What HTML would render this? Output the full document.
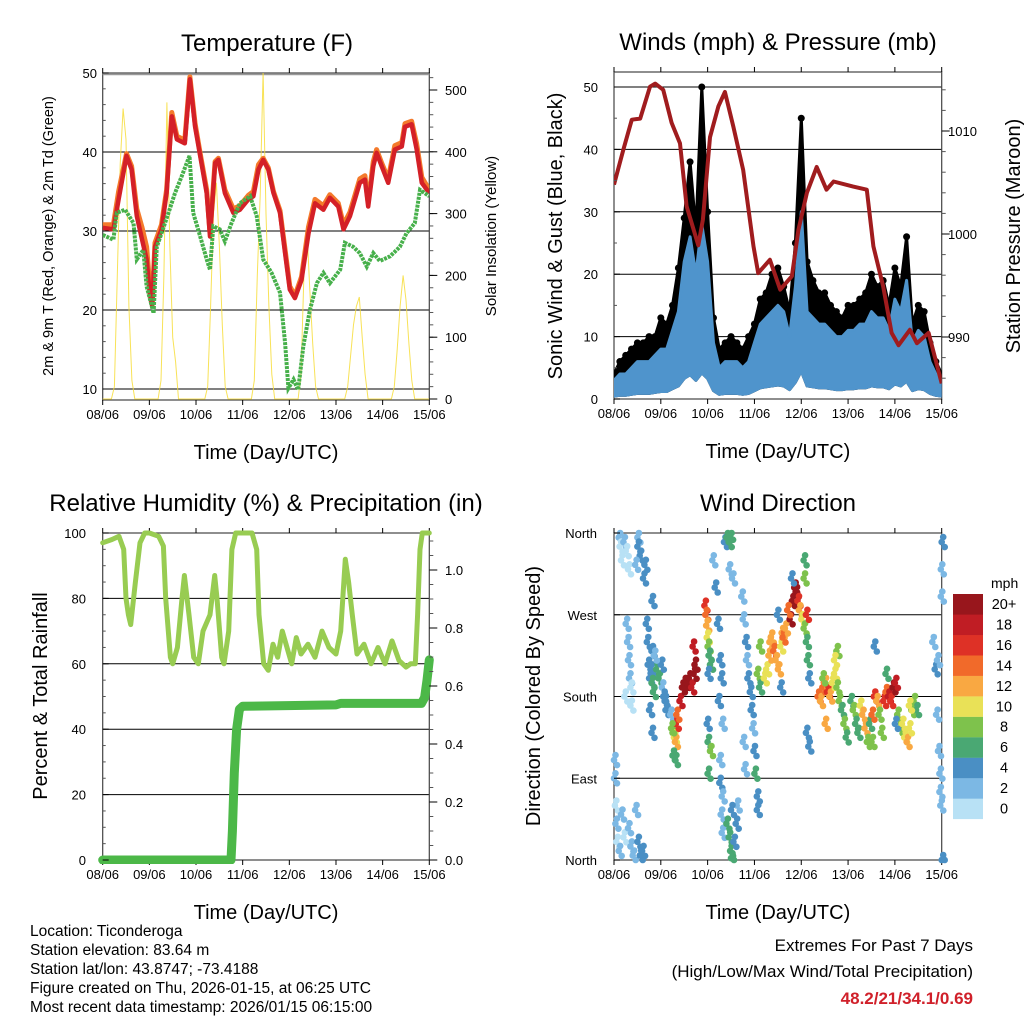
<!DOCTYPE html>
<html><head><meta charset="utf-8">
<style>
html,body{margin:0;padding:0;background:#fff;}
svg{display:block;font-family:"Liberation Sans",Arial,sans-serif;}
</style></head>
<body>
<svg id="chart" width="1024" height="1024" viewBox="0 0 1024 1024" xmlns="http://www.w3.org/2000/svg">
<rect width="1024" height="1024" fill="#fff"/>
<g id="g1"></g>
<g id="g2"></g>
<g id="g3"></g>
<g id="g4"></g>
<g font-size="15.5" fill="#000">
<text x="30" y="936">Location: Ticonderoga</text>
<text x="30" y="955">Station elevation: 83.64 m</text>
<text x="30" y="974">Station lat/lon: 43.8747; -73.4188</text>
<text x="30" y="993">Figure created on Thu, 2026-01-15, at 06:25 UTC</text>
<text x="30" y="1012">Most recent data timestamp: 2026/01/15 06:15:00</text>
</g>
<g font-size="17" text-anchor="end">
<text x="973" y="951">Extremes For Past 7 Days</text>
<text x="973" y="977">(High/Low/Max Wind/Total Precipitation)</text>
<text x="973" y="1004" font-weight="bold" fill="#d0202a">48.2/21/34.1/0.69</text>
</g>
</svg>
<script>
// ---------- data ----------
const dayLabels = ["08/06","09/06","10/06","11/06","12/06","13/06","14/06","15/06"];
const tempT =   [0,0.23,0.34,0.51,0.62,0.73,0.84,0.94,1.01,1.06,1.12,1.26,1.37,1.48,1.59,1.76,1.87,1.98,2.09,2.23,2.30,2.41,2.48,2.62,2.8,2.94,3.12,3.23,3.34,3.44,3.55,3.66,3.8,3.91,4.01,4.12,4.26,4.41,4.55,4.73,4.87,5.05,5.16,5.3,5.51,5.62,5.69,5.8,5.87,5.98,6.12,6.26,6.41,6.48,6.62,6.73,6.84,7.0];
const temp2m =  [30.4,30.2,34,39.5,37.8,31.9,29,26.4,22,20.5,28,30.2,34.8,44.5,41.6,41.1,49.2,43.2,39.5,34.8,29.3,38.6,39,34.8,32.3,32.7,34,34.4,37.8,39,37.8,34.8,32.3,27.2,22.6,21.5,23.8,29.7,33.5,32.7,34.2,33.1,30.2,31.9,36.1,36.5,33.1,38.2,39.9,38.2,36.1,40.3,40.7,43.2,43.5,40.3,36.1,34.8];
const temp9m =  [30.8,30.8,35,39.8,38.2,32.8,30.5,28,23,21,28.5,30.8,35.2,45,42,41.5,49.5,43.6,39.8,35.2,29.8,38.8,39.2,35.2,32.8,33.2,34.5,35,38.4,39.2,38,35,32.6,27.6,23,21.8,24.2,30.5,34,33.2,34.6,33.5,30.8,32.4,36.6,37,33.6,38.8,40.3,38.6,36.6,40.8,41.2,43.6,43.9,41,36.8,35.2];
const dewT =    [0,0.23,0.3,0.48,0.66,0.73,0.87,0.94,1.09,1.16,1.26,1.41,1.55,1.69,1.86,1.94,2.09,2.23,2.30,2.37,2.51,2.62,2.76,2.94,3.16,3.3,3.44,3.62,3.8,3.91,3.98,4.09,4.19,4.3,4.44,4.59,4.73,4.87,5.09,5.19,5.37,5.51,5.66,5.8,5.94,6.16,6.37,6.51,6.69,6.8,7.0];
const dew2m =   [29.5,28.9,32.3,32.7,31,26.4,27.6,23,19.6,28,29.7,32.3,34.8,36.9,39.5,32.3,29.3,26.4,25.1,30.6,30.2,28.7,31,33.5,34.4,31.9,26.4,24.7,22.2,15.8,10.1,11.2,9.9,15.4,20,23.4,24.7,23.4,25.1,28.5,28,27.2,25.5,27.2,26.2,26.8,28,29.7,31,35.2,34.4];
const solar = [0,0,0,0,20,200,380,470,420,150,30,0,0,0,0,0,
 0,0,0,0,30,200,480,250,100,60,0,0,0,0,0,0,
 0,0,0,0,20,150,300,350,250,120,20,0,0,0,0,0,
 0,0,0,0,30,200,330,530,300,150,40,0,0,0,0,0,
 0,0,0,0,40,200,280,180,90,20,0,0,0,0,0,0,
 0,0,0,0,20,70,120,150,165,100,40,0,0,0,0,0,
 0,0,0,0,20,80,150,200,160,90,30,0,0,0,0,0,0];
const gust = [4,6,7,8,9,9,10,10, 13,12,15,21,29,38,27,50, 30,13,8,9,10,9,8,10, 12,16,17,20,21,18,14,25, 45,22,19,17,17,15,14,13, 15,15,16,17,20,18,19,15, 21,18,26,12,15,14,9,6, 4];
const speed = [3,4,4,5,6,6,6,7, 8,8,11,14,22,26,20,28, 22,9,5,6,6,6,5,6, 9,12,13,14,15,14,10,18, 30,14,13,12,12,11,10,10, 11,11,12,12,14,13,13,11, 16,14,19,9,11,10,6,4, 3];
const presT = [0,0.2,0.38,0.56,0.77,0.88,1.05,1.23,1.41,1.55,1.8,1.9,2.05,2.23,2.37,2.55,2.76,2.98,3.08,3.33,3.55,3.8,3.94,4.12,4.33,4.54,4.69,5.11,5.4,5.54,5.75,5.93,6.08,6.32,6.47,6.72,7.0];
const pres =  [1004.8,1008.2,1011.1,1011.2,1014.3,1014.6,1014.0,1010.8,1008.8,1002.7,998.9,1001.4,1009.4,1012.4,1013.8,1010.4,1006.2,998.8,996.2,997.5,994.6,995.9,1000.4,1004.0,1006.5,1004.3,1005.1,1004.6,1004.3,998.8,994.9,990.4,989.2,990.7,989.4,990.4,985.5];
const rhT = [0,0.2,0.35,0.45,0.5,0.55,0.6,0.7,0.8,0.9,1.0,1.2,1.3,1.35,1.45,1.5,1.6,1.7,1.75,1.85,1.95,2.05,2.15,2.3,2.4,2.45,2.55,2.6,2.7,2.77,2.85,3.0,3.2,3.3,3.35,3.45,3.55,3.65,3.75,3.85,3.95,4.05,4.15,4.25,4.4,4.55,4.7,4.85,5.0,5.1,5.2,5.27,5.35,5.45,5.6,5.75,5.9,6.05,6.2,6.35,6.5,6.6,6.7,6.75,6.8,6.85,7.0];
const rh =  [97,98,99,95,80,75,72,85,97,100,100,99,96,80,62,60,65,80,87,75,62,60,70,75,87,80,62,60,70,95,100,100,100,95,75,60,58,66,62,70,65,60,68,63,66,62,70,65,63,70,92,85,75,63,66,60,65,60,67,61,59,60,60,75,95,100,100];
const prT = [0,2.75,2.78,2.82,2.87,2.93,3.0,5.0,5.1,6.83,6.9,6.95,7.0];
const pr =  [0,0,0.1,0.3,0.45,0.52,0.53,0.535,0.54,0.54,0.56,0.62,0.69];
const wdT = [0.1,0.12,0.15,0.2,0.25,0.3,0.5,0.5,0.55,0.45,0.65,0.62,
 0.02,0.03,0.05,0.1,0.15,0.2,0.3,0.35,0.4,0.5,0.55,0.6,0.45,0.0,0.0,
 0.25,0.28,0.3,0.32,0.35,0.22,0.35,0.8,0.8,
 0.68,0.7,0.72,0.75,0.78,0.8,0.83,0.9,0.95,1.0,1.02,1.05,1.08,1.1,0.85,0.75,0.8,1.2,
 1.25,1.28,1.3,1.32,1.33,1.22,1.25,1.3,
 1.4,1.45,1.5,1.55,1.6,1.65,1.7,1.72,1.68,
 1.93,1.95,1.97,1.98,2.0,2.02,2.05,2.0,1.98,2.0,2.0,2.05,
 2.1,2.15,2.2,2.25,2.28,2.22,2.3,2.25,2.25,2.3,2.28,2.3,2.35,2.4,2.45,2.48,2.45,2.52,
 2.4,2.45,2.48,2.5,2.55,2.6,2.62,2.5,
 2.72,2.75,2.8,2.82,2.85,2.9,2.92,2.95,2.98,3.0,3.05,3.05,2.75,2.78,3.1,3.05,3.1,
 3.2,3.25,3.3,3.32,3.35,3.4,3.45,3.5,3.55,3.58,3.6,3.65,3.55,3.48,
 3.75,3.8,3.85,3.88,3.92,3.95,4.0,4.05,4.1,4.12,4.15,4.05,4.05,3.7,3.78,4.1,4.15,4.1,
 4.35,4.4,4.45,4.5,4.55,4.6,4.65,4.7,4.75,4.8,4.85,4.9,4.95,4.5,4.45,4.75,4.7,
 5.05,5.1,5.15,5.2,5.25,5.3,5.35,5.4,5.45,5.5,5.55,5.6,5.65,5.7,5.75,5.8,5.85,5.9,5.95,6.0,6.05,6.1,6.15,6.2,6.25,6.3,6.35,6.4,6.45,5.55,5.8,5.5,6.0,6.3,
 6.8,6.85,6.9,6.88,6.92,6.95,6.95,6.97,6.98,7.0,6.98,7.0];
const wdDir = [355,345,330,350,340,320,355,345,335,325,325,310,
 60,40,20,10,50,25,35,15,5,20,5,10,55,110,90,
 260,240,220,200,190,180,170,285,230,
 260,240,215,200,210,195,185,210,200,215,190,180,175,165,225,165,140,160,
 140,135,130,150,160,145,115,110,
 175,190,195,195,200,190,205,215,235,
 280,270,258,245,235,225,215,205,150,130,95,120,
 330,300,260,220,200,175,150,110,85,70,50,30,350,355,350,358,320,310,
 40,25,10,2,20,40,60,55,
 290,265,240,220,200,185,165,145,120,95,70,55,130,100,235,205,190,
 200,210,225,240,245,230,220,210,235,250,245,255,190,270,
 265,285,300,295,285,275,265,255,240,220,200,310,330,275,310,140,125,270,
 180,175,190,195,185,180,195,205,190,175,165,150,135,150,200,230,220,
 175,165,150,140,170,160,145,130,150,160,180,175,160,140,175,185,180,175,190,195,160,145,150,135,130,145,165,175,165,235,205,130,150,170,
 240,210,220,160,120,95,75,60,320,350,290,0];
const wdSpd = [2,1,1,2,1,1,3,4,4,2,4,4,
 1,2,1,2,2,1,2,2,3,4,4,4,3,2,3,
 3,3,2,2,1,1,1,4,4,
 4,4,4,4,5,6,6,7,6,5,3,5,4,4,3,4,4,3,
 8,10,12,16,14,8,6,7,
 18,20,21,20,21,18,20,20,18,
 16,14,12,10,8,7,6,5,4,6,7,8,
 3,4,4,4,4,4,2,2,4,3,3,2,4,6,6,6,3,2,
 6,6,7,6,4,4,3,5,
 3,3,4,3,4,5,4,3,4,6,4,4,3,3,8,8,7,
 10,10,12,13,12,14,12,12,10,12,14,12,4,4,
 20,21,22,20,16,12,10,8,6,6,4,8,7,14,4,4,4,16,
 14,12,14,12,16,12,10,10,8,8,6,8,6,12,8,8,10,
 6,8,6,6,10,12,12,8,6,14,16,12,8,8,16,14,18,16,20,18,8,8,10,10,12,10,8,8,6,4,6,8,5,10,
 3,4,2,3,2,2,2,2,2,4,3,4];
const binLabels = ["0","2","4","6","8","10","12","14","16","18","20+"];
const binColors = ["#b8e1f5","#7cb8e4","#4a8fc4","#4aa873","#7ec24c","#e9e157","#f9a842","#f16a2a","#de3126","#c01d24","#98161c"];

// ---------- helpers ----------
const NS="http://www.w3.org/2000/svg";
function mk(parent,tag,attrs,txt){const e=document.createElementNS(NS,tag);for(const k in attrs)e.setAttribute(k,attrs[k]);if(txt!==undefined)e.textContent=txt;parent.appendChild(e);return e;}
function pts(xs,ys,fx,fy){return xs.map((x,i)=>fx(x).toFixed(1)+","+fy(ys[i]).toFixed(1)).join(" ");}

function frame(g,P,opt){
  opt.grid.forEach(v=>{const y=opt.yL(v);
    const l=mk(g,"line",{x1:P.x0,x2:P.x1,y1:y,y2:y,stroke:"#000","stroke-width":1});
    
    });
  const r=mk(g,"rect",{x:P.x0,y:P.y0,width:P.x1-P.x0,height:P.y1-P.y0,fill:"none",stroke:"#444","stroke-width":1.2});
  
  
  dayLabels.forEach((lab,i)=>{const x=P.xd(i);
    mk(g,"line",{x1:x,x2:x,y1:P.y1,y2:P.y1+5,stroke:"#000"});
    mk(g,"line",{x1:x,x2:x,y1:P.y0,y2:P.y0-5,stroke:"#000"});
    const t=mk(g,"text",{x:x,y:P.y1+19,"font-size":13,"text-anchor":"middle"},lab);
    
    });
  const xt=mk(g,"text",{x:(P.x0+P.x1)/2,y:P.y1+59,"font-size":20,"text-anchor":"middle"},"Time (Day/UTC)");
  
  
  const tt=mk(g,"text",{x:opt.titleX,y:P.y0-22,"font-size":24,"text-anchor":"middle"},opt.title);
  
  
}
function leftTicks(g,P,vals,fy,labs,lx,minor){
  if(minor)minor.forEach(v=>mk(g,"line",{x1:P.x0,x2:P.x0+3,y1:fy(v),y2:fy(v),stroke:"#555"}));
  vals.forEach((v,i)=>{mk(g,"line",{x1:P.x0,x2:P.x0+6,y1:fy(v),y2:fy(v),stroke:"#000"});
    const t=mk(g,"text",{x:lx,y:fy(v)+5,"font-size":13,"text-anchor":"end"},labs[i]);
    
    });
}
function rightTicks(g,P,vals,fy,labs,lx,minor){
  if(minor)minor.forEach(v=>mk(g,"line",{x1:P.x1,x2:P.x1+4,y1:fy(v),y2:fy(v),stroke:"#555"}));
  vals.forEach((v,i)=>{mk(g,"line",{x1:P.x1,x2:P.x1+8,y1:fy(v),y2:fy(v),stroke:"#000"});
    const t=mk(g,"text",{x:lx,y:fy(v)+5,"font-size":13,"text-anchor":"start"},labs[i]);
    
    });
}
function vlabel(g,x,y,txt,size,name){const t=mk(g,"text",{x:x,y:y,"font-size":size,"text-anchor":"middle",transform:`rotate(-90 ${x} ${y})`},txt);
  
  }
function range(a,b,s){const r=[];for(let v=a;v<=b+1e-9;v+=s)r.push(+v.toFixed(4));return r;}

// ---------- Panel 1: temperature ----------
(function(){
const g=document.getElementById("g1");
const P={x0:102.7,x1:429.3,y0:73,y1:400};P.xd=d=>P.x0+d*(P.x1-P.x0)/7;
const yT=t=>389-(t-10)*7.9, yS=s=>399-s*0.618;
const clip=mk(g,"clipPath",{id:"c1"});mk(clip,"rect",{x:P.x0,y:P.y0,width:P.x1-P.x0,height:P.y1-P.y0});
frame(g,P,{grid:[10,20,30,40,50],yL:yT,title:"Temperature (F)",titleX:267});
mk(g,"line",{x1:P.x0,x2:P.x1,y1:74.5,y2:74.5,stroke:"#999","stroke-width":1.5});
const d=mk(g,"g",{"clip-path":"url(#c1)"});
const sl=mk(d,"polyline",{points:pts(solar.map((_,i)=>i/16),solar,P.xd,yS),fill:"none",stroke:"#f7dd3a","stroke-width":1,"stroke-opacity":0.85});


const o=mk(d,"polyline",{points:pts(tempT,temp9m,P.xd,yT),fill:"none",stroke:"#f47a2b","stroke-width":5,"stroke-linejoin":"round"});


const r=mk(d,"polyline",{points:pts(tempT,temp2m,P.xd,yT),fill:"none",stroke:"#d42027","stroke-width":4.5,"stroke-linejoin":"round"});


const gr=mk(d,"polyline",{points:pts(dewT,dew2m,P.xd,yT),fill:"none",stroke:"#47b04b","stroke-width":4,"stroke-dasharray":"3 1"});


leftTicks(g,P,[10,20,30,40,50],yT,["10","20","30","40","50"],97,range(10,50,2));
rightTicks(g,P,[0,100,200,300,400,500],yS,["0","100","200","300","400","500"],445,range(0,520,20));
vlabel(g,53,236,"2m & 9m T (Red, Orange) & 2m Td (Green)",14.5,"left-axis-title");
vlabel(g,496,236,"Solar Insolation (Yellow)",15,"right-axis-title");
})();

// ---------- Panel 2: winds & pressure ----------
(function(){
const g=document.getElementById("g2");
const P={x0:614,x1:941.7,y0:72,y1:399};P.xd=d=>P.x0+d*(P.x1-P.x0)/7;
const yW=w=>399-w*6.24, yP=p=>337-(p-990)*10.3;
const clip=mk(g,"clipPath",{id:"c2"});mk(clip,"rect",{x:P.x0,y:P.y0,width:P.x1-P.x0,height:P.y1-P.y0});
frame(g,P,{grid:[0,10,20,30,40,50],yL:yW,title:"Winds (mph) & Pressure (mb)",titleX:778});
const d=mk(g,"g",{"clip-path":"url(#c2)"});
const wt=gust.map((_,i)=>i/8);
const top=wt.map((t,i)=>P.xd(t).toFixed(1)+","+yW(gust[i]).toFixed(1));
const bot=wt.map((t,i)=>P.xd(t).toFixed(1)+","+yW(speed[i]*0.15).toFixed(1)).reverse();
const gb=mk(d,"polygon",{points:top.concat(bot).join(" "),fill:"#000",stroke:"#000","stroke-width":3,"stroke-linejoin":"round"});


wt.forEach((t,i)=>{const c=mk(d,"circle",{cx:P.xd(t),cy:yW(gust[i]),r:3.5,fill:"#000"});
  
  });
const st=wt.map((t,i)=>P.xd(t).toFixed(1)+","+yW(speed[i]).toFixed(1));
const sb=wt.map((t,i)=>P.xd(t).toFixed(1)+","+yW(speed[i]*0.15).toFixed(1)).reverse();
const bl=mk(d,"polygon",{points:st.concat(sb).join(" "),fill:"#4f94cc",stroke:"#4f94cc","stroke-width":3,"stroke-linejoin":"round"});


const pl=mk(d,"polyline",{points:pts(presT,pres,P.xd,yP),fill:"none",stroke:"#a01c1e","stroke-width":4,"stroke-linejoin":"round"});


leftTicks(g,P,[0,10,20,30,40,50],yW,["0","10","20","30","40","50"],598,range(0,50,5));
rightTicks(g,P,[990,1000,1010],yP,["990","1000","1010"],948,range(986,1014,2));
vlabel(g,562,236,"Sonic Wind & Gust (Blue, Black)",20,"left-axis-title");
vlabel(g,1020,236,"Station Pressure (Maroon)",20,"right-axis-title");
})();

// ---------- Panel 3: RH & precipitation ----------
(function(){
const g=document.getElementById("g3");
const P={x0:102.7,x1:429.3,y0:533,y1:860};P.xd=d=>P.x0+d*(P.x1-P.x0)/7;
const yR=v=>860-v*3.27, yPr=v=>860-v*290;
const clip=mk(g,"clipPath",{id:"c3"});mk(clip,"rect",{x:P.x0-6,y:P.y0-4,width:P.x1-P.x0+12,height:P.y1-P.y0+8});
frame(g,P,{grid:[0,20,40,60,80,100],yL:yR,title:"Relative Humidity (%) & Precipitation (in)",titleX:266});
const d=mk(g,"g",{"clip-path":"url(#c3)"});
const rl=mk(d,"polyline",{points:pts(rhT,rh,P.xd,yR),fill:"none",stroke:"#98cc52","stroke-width":5,"stroke-linejoin":"round","stroke-linecap":"round"});


const pl=mk(d,"polyline",{points:pts(prT,pr,P.xd,yPr),fill:"none",stroke:"#4cb848","stroke-width":9,"stroke-linejoin":"round","stroke-linecap":"round"});


leftTicks(g,P,[0,20,40,60,80,100],yR,["0","20","40","60","80","100"],86,range(0,100,5));
rightTicks(g,P,[0,0.2,0.4,0.6,0.8,1.0],yPr,["0.0","0.2","0.4","0.6","0.8","1.0"],445,range(0,1.1,0.05));
vlabel(g,47,696,"Percent & Total Rainfall",20,"left-axis-title");
})();

// ---------- Panel 4: wind direction ----------
(function(){
const g=document.getElementById("g4");
const P={x0:614,x1:941.7,y0:533,y1:860};P.xd=d=>P.x0+d*(P.x1-P.x0)/7;
const yD=v=>860-v/360*327;
frame(g,P,{grid:[0,90,180,270,360],yL:yD,title:"Wind Direction",titleX:778});
const d=mk(g,"g",{});
const offs=[0,-5,5];
wdT.forEach((t,i)=>{
  const b=Math.min(10,Math.floor(wdSpd[i]/2));
  offs.forEach((o,k)=>{
    const c=mk(d,"circle",{cx:(P.xd(t)+k*1.5).toFixed(1),cy:Math.max(P.y0,Math.min(P.y1,yD(wdDir[i])+o)).toFixed(1),r:3.3,fill:binColors[b]});
    
    
  });
});
leftTicks(g,P,[0,90,180,270,360],yD,["North","East","South","West","North"],597);
vlabel(g,540,696,"Direction (Colored By Speed)",20,"left-axis-title");
const lg=mk(g,"g",{});


mk(lg,"text",{x:991,y:588,"font-size":14},"mph");
binColors.forEach((c,i)=>{const y=594+(10-i)*20.45;
  const r=mk(lg,"rect",{x:953,y:y,width:30,height:20.6,fill:c});
  
  
  const t=mk(lg,"text",{x:1004,y:y+15,"font-size":14.5,"text-anchor":"middle"},binLabels[i]);
  
  });
})();
</script>
</body></html>
